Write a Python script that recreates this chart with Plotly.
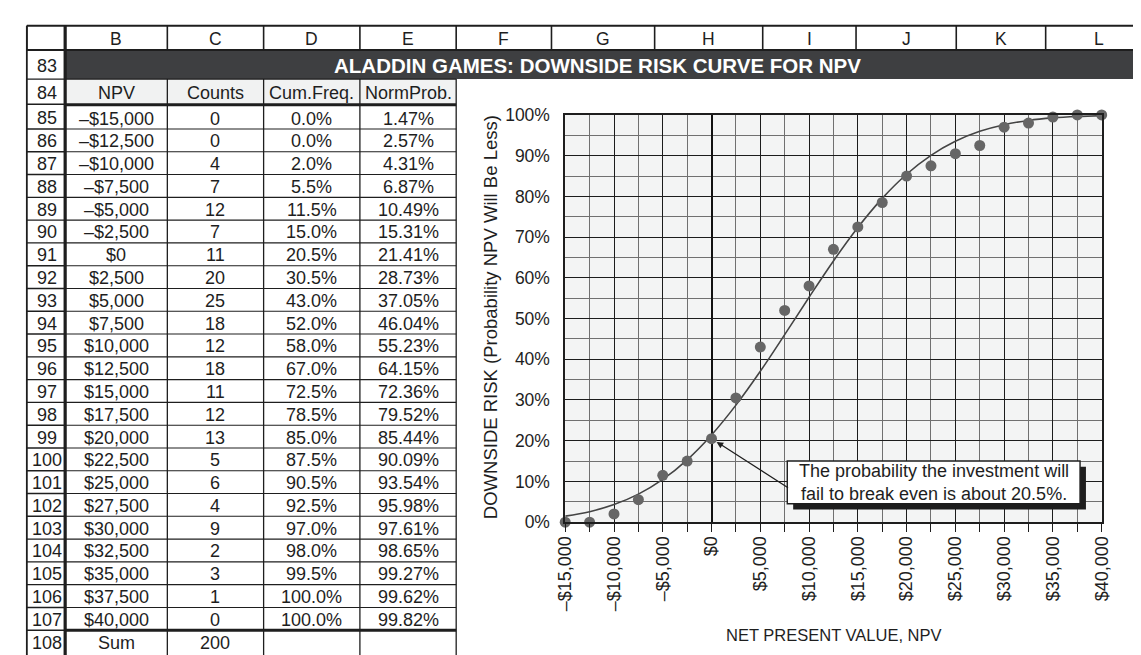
import plotly.graph_objects as go

# ---------------- data ----------------
npv = [-15000, -12500, -10000, -7500, -5000, -2500, 0, 2500, 5000, 7500, 10000,
       12500, 15000, 17500, 20000, 22500, 25000, 27500, 30000, 32500, 35000, 37500, 40000]
counts = [0, 0, 4, 7, 12, 7, 11, 20, 25, 18, 12, 18, 11, 12, 13, 5, 6, 4, 9, 2, 3, 1, 0]
cum_freq = [0.000, 0.000, 0.020, 0.055, 0.115, 0.150, 0.205, 0.305, 0.430, 0.520, 0.580,
            0.670, 0.725, 0.785, 0.850, 0.875, 0.905, 0.925, 0.970, 0.980, 0.995, 1.000, 1.000]
norm_prob = [0.0147, 0.0257, 0.0431, 0.0687, 0.1049, 0.1531, 0.2141, 0.2873, 0.3705, 0.4604,
             0.5523, 0.6415, 0.7236, 0.7952, 0.8544, 0.9009, 0.9354, 0.9598, 0.9761, 0.9865,
             0.9927, 0.9962, 0.9982]
row_numbers = list(range(83, 109))
col_letters = ["B", "C", "D", "E", "F", "G", "H", "I", "J", "K", "L"]
header_labels = ["NPV", "Counts", "Cum.Freq.", "NormProb."]
x_tickvals = [-15000, -10000, -5000, 0, 5000, 10000, 15000, 20000, 25000, 30000, 35000, 40000]
title_text = "ALADDIN GAMES: DOWNSIDE RISK CURVE FOR NPV"
note_text = "The probability the investment will<br>fail to break even is about 20.5%."
break_even_x, break_even_y = 0, 0.205


def money(v):
    s = "${:,.0f}".format(abs(v))
    return ("\u2013" + s) if v < 0 else s


W, H = 1141, 655
FONT = "Liberation Sans, Arial, sans-serif"
INK = "#1e1e1e"
CELL = 18


def X(p):
    return p / W


def Y(p):
    return 1 - p / H


fig = go.Figure()

# curve + points
fig.add_trace(go.Scatter(x=npv, y=norm_prob, mode="lines",
                         line=dict(color="#444444", width=1.6, shape="spline"),
                         hoverinfo="skip", showlegend=False))
fig.add_trace(go.Scatter(x=npv, y=cum_freq, mode="markers",
                         marker=dict(color="#666666", size=11),
                         cliponaxis=False, showlegend=False))

shapes = []
ann = []


def line(x0, y0, x1, y1, w=1.2, c=INK):
    shapes.append(dict(type="line", xref="paper", yref="paper",
                       x0=X(x0), y0=Y(y0), x1=X(x1), y1=Y(y1),
                       line=dict(color=c, width=w)))


def rect(x0, y0, x1, y1, fill, w=0, c=INK, layer="below"):
    shapes.append(dict(type="rect", xref="paper", yref="paper", layer=layer,
                       x0=X(x0), y0=Y(y0), x1=X(x1), y1=Y(y1),
                       fillcolor=fill, line=dict(color=c, width=w)))


def text(x, y, t, size=CELL, color=INK, bold=False):
    ann.append(dict(xref="paper", yref="paper", x=X(x), y=Y(y), text=("<b>%s</b>" % t) if bold else t,
                    showarrow=False, xanchor="center", yanchor="middle",
                    font=dict(family=FONT, size=size, color=color)))


# ---------------- spreadsheet geometry ----------------
left_x = 9
rn_right = 48
col_edges = [48, 152, 250, 348, 446]          # B..E
chart_col_edges = [446, 543, 648, 758, 853, 955, 1046, 1160]  # F..L
hdr_top, hdr_bot = 8, 33
r83_bot = 63
r84_bot = 89
row_top0 = 91
pitch = (H - row_top0) / 24.0

# title bar and header row backgrounds
rect(rn_right, hdr_bot, W + 5, r83_bot, "#3e3f41")
rect(rn_right, r83_bot, col_edges[-1], r84_bot, "#f1f2f2")

# header row (column letters)
line(left_x, hdr_top, W + 5, hdr_top, 2.2)
line(left_x, hdr_bot, W + 5, hdr_bot, 2.2)
all_edges = col_edges + chart_col_edges[1:]
for e in [left_x] + all_edges:
    line(e, hdr_top, e, hdr_bot, 1.6)
centers = [(all_edges[i] + all_edges[i + 1]) / 2 for i in range(len(all_edges) - 1)]
centers[-1] = 1100
for lab, cx in zip(col_letters, centers):
    text(cx, (hdr_top + hdr_bot) / 2 + 1, lab, 17.5)

# title
text(590, (hdr_bot + r83_bot) / 2 + 1, title_text, 20.5, "white", bold=True)

# row number column + table rows
row_bounds = [hdr_bot, r83_bot, r84_bot] + [row_top0 + i * pitch for i in range(1, 25)]
for i, rn in enumerate(row_numbers):
    y0, y1 = row_bounds[i], row_bounds[i + 1]
    text((left_x + rn_right) / 2 + 1, (y0 + y1) / 2 + 1, str(rn), CELL)
for yb in row_bounds[1:-1]:
    line(left_x, yb, rn_right, yb, 1.4)
line(left_x, hdr_top, left_x, H + 2, 1.8)
line(rn_right, hdr_top, rn_right, H + 2, 3.2)

# table inner lines
for e in col_edges[1:]:
    line(e, r83_bot, e, H + 2, 1.3)
line(rn_right, r83_bot, col_edges[-1], r83_bot, 1.3)
line(rn_right, r84_bot + 0.5, col_edges[-1], r84_bot + 0.5, 3.0)
for i in range(1, 24):
    yb = row_top0 + i * pitch
    line(rn_right, yb, col_edges[-1], yb, 3.0 if i == 23 else 1.1)

cc = [(col_edges[i] + col_edges[i + 1]) / 2 for i in range(4)]
for lab, cx in zip(header_labels, cc):
    text(cx, (r83_bot + r84_bot) / 2 + 1, lab)
for i in range(len(npv)):
    yc = row_top0 + (i + 0.5) * pitch + 1
    text(cc[0], yc, money(npv[i]))
    text(cc[1], yc, str(counts[i]))
    text(cc[2], yc, "{:.1f}%".format(cum_freq[i] * 100))
    text(cc[3], yc, "{:.2f}%".format(norm_prob[i] * 100))
yc = row_top0 + 23.5 * pitch + 1
text(cc[0], yc, "Sum")
text(cc[1], yc, str(sum(counts)))

# ---------------- chart annotations ----------------
rect(789, 463, 1087, 507, "#1e1e1e", 0, layer="above")
rect(783, 457, 1081, 501, "white", 1.4, INK, layer="above")
ann.append(dict(xref="paper", yref="paper", x=X(932), y=Y(479), text=note_text,
                showarrow=False, align="center", xanchor="center", yanchor="middle",
                font=dict(family=FONT, size=18, color=INK)))
ann.append(dict(x=break_even_x, y=break_even_y, xref="x", yref="y", text="",
                showarrow=True, ax=78, ay=50, axref="pixel", ayref="pixel",
                arrowhead=2, arrowsize=1.1, arrowwidth=1.2, arrowcolor=INK, standoff=6))
# axis titles
ann.append(dict(xref="paper", yref="paper", x=X(481), y=Y(309), text="DOWNSIDE RISK (Probability NPV Will Be Less)",
                textangle=-90, showarrow=False, xanchor="center", yanchor="middle",
                font=dict(family=FONT, size=18.5, color=INK)))
ann.append(dict(xref="paper", yref="paper", x=X(830), y=Y(636), text="NET PRESENT VALUE, NPV",
                showarrow=False, xanchor="center", yanchor="middle",
                font=dict(family=FONT, size=16.5, color=INK)))

fig.update_layout(
    width=W, height=H, margin=dict(l=0, r=0, t=0, b=0),
    paper_bgcolor="white", plot_bgcolor="#f3f4f4",
    shapes=shapes, annotations=ann, showlegend=False,
    font=dict(family=FONT, color=INK),
    xaxis=dict(domain=[X(557), X(1103)], range=[-15000, 40000],
               tickvals=x_tickvals, ticktext=[money(v) for v in x_tickvals],
               tickangle=-90, ticks="outside", ticklen=8, tickcolor=INK, tickwidth=1.3,
               tickfont=dict(size=18, color=INK), ticklabelstandoff=-3,
               showgrid=True, gridcolor="#1c1c1c", gridwidth=1,
               zeroline=True, zerolinecolor="#111111", zerolinewidth=2,
               minor=dict(tick0=-15000, dtick=2500, showgrid=True, gridcolor="#707070",
                          gridwidth=1, ticks="outside", ticklen=8, tickcolor=INK, tickwidth=1.3),
               showline=True, linecolor=INK, linewidth=1.6, mirror=True),
    yaxis=dict(domain=[Y(520), Y(100)], range=[0, 1], dtick=0.1, tickformat=".0%",
               tickfont=dict(size=17.5, color=INK), ticks="", ticklabelstandoff=10,
               showgrid=True, gridcolor="#1c1c1c", gridwidth=1, zeroline=False,
               minor=dict(dtick=0.05, showgrid=True, gridcolor="#707070", gridwidth=1),
               showline=True, linecolor=INK, linewidth=1.6, mirror=True),
)

fig.write_html("out.html")
